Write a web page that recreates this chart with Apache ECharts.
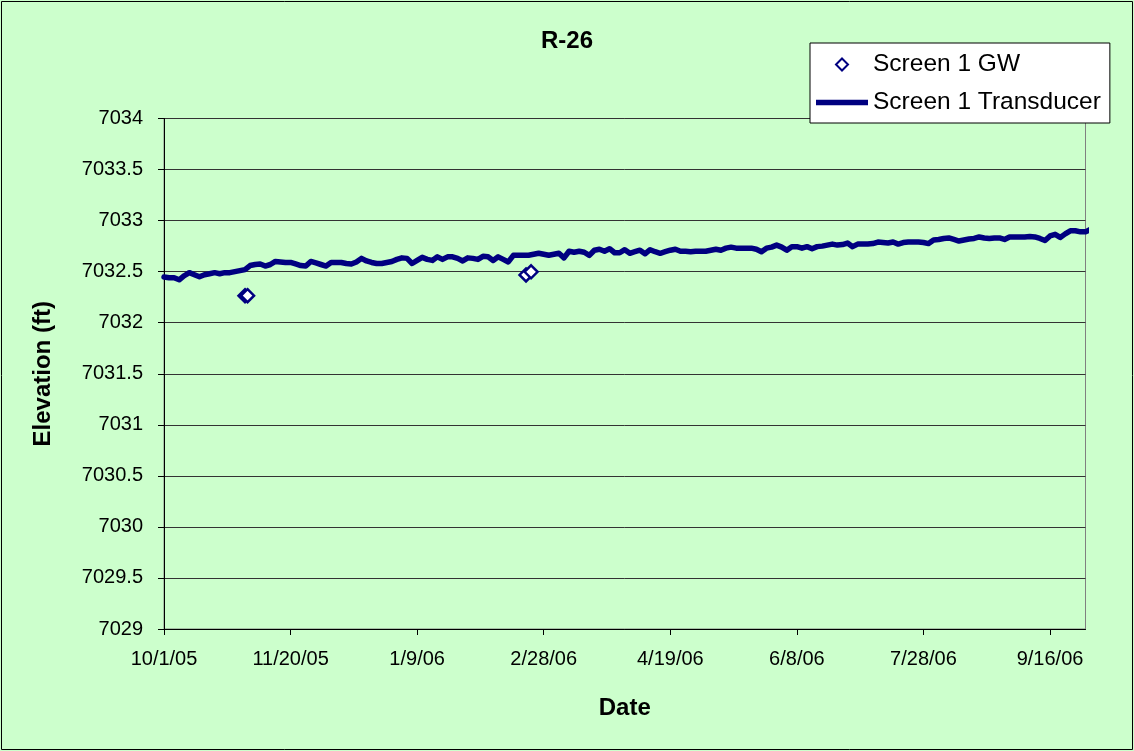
<!DOCTYPE html>
<html>
<head>
<meta charset="utf-8">
<script src="https://cdn.jsdelivr.net/npm/echarts@6/dist/echarts.min.js"></script>
<style>
html,body{margin:0;padding:0;background:#CCFFCC;}
#chart{width:1134px;height:751px;}
</style>
</head>
<body>
<div id="chart"></div>
<script>
// X tick labels (days since 10/1/05)
const xTickDays = [0, 50, 100, 150, 200, 250, 300, 350];
const xTickLabels = ['10/1/05', '11/20/05', '1/9/06', '2/28/06', '4/19/06', '6/8/06', '7/28/06', '9/16/06'];

// Screen 1 GW (manual measurements), days since 10/1/05
const gwDays = [32, 33, 143, 145];
const gwValues = [7032.265, 7032.265, 7032.468, 7032.498];

// Screen 1 Transducer: readings every 2 days starting 10/1/05
const transducerStepDays = 2;
const transducerValues = [
  7032.447, 7032.44, 7032.44, 7032.42, 7032.46, 7032.49, 7032.47, 7032.45, 7032.47, 7032.48,
  7032.49, 7032.48, 7032.49, 7032.49, 7032.50, 7032.51, 7032.52, 7032.56, 7032.57, 7032.575,
  7032.555, 7032.57, 7032.60, 7032.595, 7032.59, 7032.59, 7032.575, 7032.56, 7032.555, 7032.60,
  7032.585, 7032.57, 7032.555, 7032.59, 7032.59, 7032.59, 7032.58, 7032.575, 7032.595, 7032.63,
  7032.605, 7032.59, 7032.58, 7032.58, 7032.59, 7032.60, 7032.62, 7032.635, 7032.63, 7032.58,
  7032.61, 7032.64, 7032.62, 7032.61, 7032.645, 7032.62, 7032.645, 7032.645, 7032.63, 7032.605,
  7032.635, 7032.63, 7032.62, 7032.65, 7032.645, 7032.61, 7032.645, 7032.62, 7032.595, 7032.66,
  7032.66, 7032.66, 7032.66, 7032.67, 7032.68, 7032.67, 7032.66, 7032.67, 7032.68, 7032.635,
  7032.70, 7032.69, 7032.70, 7032.69, 7032.66, 7032.71, 7032.72, 7032.70, 7032.725, 7032.685,
  7032.685, 7032.715, 7032.68, 7032.695, 7032.71, 7032.675, 7032.715, 7032.695, 7032.68, 7032.695,
  7032.71, 7032.72, 7032.70, 7032.70, 7032.695, 7032.70, 7032.70, 7032.70, 7032.71, 7032.72,
  7032.71, 7032.73, 7032.74, 7032.73, 7032.73, 7032.73, 7032.73, 7032.72, 7032.695, 7032.73,
  7032.74, 7032.76, 7032.74, 7032.71, 7032.745, 7032.745, 7032.73, 7032.745, 7032.725, 7032.745,
  7032.75, 7032.76, 7032.77, 7032.76, 7032.765, 7032.78, 7032.745, 7032.77, 7032.77, 7032.77,
  7032.775, 7032.79, 7032.785, 7032.78, 7032.79, 7032.77, 7032.785, 7032.79, 7032.79, 7032.79,
  7032.785, 7032.775, 7032.81, 7032.815, 7032.825, 7032.83, 7032.815, 7032.80, 7032.81, 7032.82,
  7032.825, 7032.84, 7032.83, 7032.825, 7032.83, 7032.83, 7032.815, 7032.84, 7032.84, 7032.84,
  7032.84, 7032.845, 7032.84, 7032.825, 7032.805, 7032.85, 7032.865, 7032.835, 7032.87, 7032.90,
  7032.90, 7032.89, 7032.89, 7032.915
];

const transducerData = transducerValues.map((v, i) => [i * transducerStepDays, v]);
const gwData = gwDays.map((d, i) => [d, gwValues[i]]);

const chart = echarts.init(document.getElementById('chart'), null, {renderer: 'canvas'});
const FONT = 'Liberation Sans, Arial, sans-serif';
const NAVY = '#000080';

chart.setOption({
  backgroundColor: '#CCFFCC',
  animation: false,
  textStyle: {fontFamily: FONT, color: '#000'},
  title: {
    text: 'R-26',
    left: 'center',
    top: 29,
    padding: 0,
    textStyle: {fontFamily: FONT, fontSize: 24, fontWeight: 'bold', color: '#000'}
  },
  graphic: [{
    type: 'rect',
    shape: {x: 1.5, y: 1.5, width: 1131, height: 748},
    style: {fill: 'none', stroke: '#000', lineWidth: 1},
    silent: true,
    z: -1
  }],
  legend: {
    orient: 'vertical',
    left: 810,
    top: 43,
    padding: [9, 9, 8, 6],
    itemWidth: 52,
    itemHeight: 12,
    itemGap: 13,
    symbolKeepAspect: true,
    backgroundColor: '#FFFFFF',
    borderColor: '#000',
    borderWidth: 1,
    textStyle: {fontFamily: FONT, fontSize: 24.5, color: '#000'},
    data: [
      {
        name: 'Screen 1 GW',
        icon: 'path://M5,0 L10,5 L5,10 L0,5 Z',
        itemStyle: {color: '#FFFFFF', borderColor: NAVY, borderWidth: 2, opacity: 1}
      },
      {
        name: 'Screen 1 Transducer',
        icon: 'path://M0,0 L52,0 L52,5.5 L0,5.5 Z',
        itemStyle: {color: NAVY, borderWidth: 0}
      }
    ]
  },
  grid: {
    left: 164,
    right: 48.5,
    top: 118.5,
    bottom: 122,
    show: true,
    borderColor: '#808080',
    borderWidth: 1,
    backgroundColor: 'transparent'
  },
  xAxis: {
    type: 'value',
    min: 0,
    max: 364,
    name: 'Date',
    nameLocation: 'middle',
    nameGap: 67,
    nameTextStyle: {fontFamily: FONT, fontSize: 24, fontWeight: 'bold', color: '#000'},
    axisLine: {show: true, onZero: false, lineStyle: {color: '#000', width: 1}},
    axisTick: {show: true, inside: false, length: 6, lineStyle: {color: '#000'}, customValues: xTickDays},
    axisLabel: {
      customValues: xTickDays,
      margin: 20,
      fontFamily: FONT, fontSize: 20, color: '#000',
      formatter: function (v) {
        const i = xTickDays.indexOf(Math.round(v));
        return i >= 0 ? xTickLabels[i] : '';
      }
    },
    splitLine: {show: false}
  },
  yAxis: {
    type: 'value',
    min: 7029,
    max: 7034,
    interval: 0.5,
    name: 'Elevation (ft)',
    nameLocation: 'middle',
    nameGap: 109,
    nameTextStyle: {fontFamily: FONT, fontSize: 24, fontWeight: 'bold', color: '#000'},
    axisLine: {show: true, lineStyle: {color: '#000', width: 1}},
    axisTick: {show: true, inside: false, length: 6, lineStyle: {color: '#000'}},
    axisLabel: {
      margin: 21,
      fontFamily: FONT, fontSize: 20, color: '#000',
      formatter: function (v) { return String(v); }
    },
    splitLine: {show: true, lineStyle: {color: '#333333', width: 1}}
  },
  series: [
    {
      name: 'Screen 1 GW',
      type: 'scatter',
      data: gwData,
      symbol: 'diamond',
      symbolSize: 13,
      itemStyle: {color: '#FFFFFF', borderColor: NAVY, borderWidth: 2.5, opacity: 1},
      z: 4
    },
    {
      name: 'Screen 1 Transducer',
      type: 'line',
      data: transducerData,
      symbol: 'none',
      showSymbol: false,
      clip: false,
      lineStyle: {color: NAVY, width: 5.5, join: 'round', cap: 'round'},
      itemStyle: {color: NAVY},
      z: 3
    }
  ]
});
</script>
</body>
</html>
